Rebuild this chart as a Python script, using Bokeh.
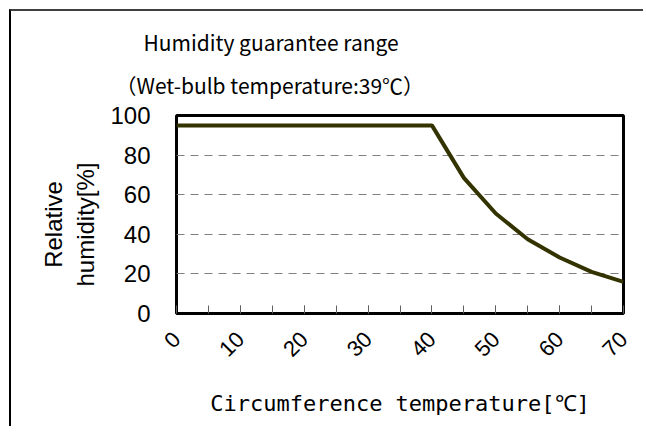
import math
from bokeh.plotting import figure
from bokeh.models import FixedTicker, Title, Range1d
from bokeh.embed import file_html
from bokeh.resources import INLINE

temperature = [0, 5, 10, 15, 20, 25, 30, 35, 40, 45, 50, 55, 60, 65, 70]
humidity = [95, 95, 95, 95, 95, 95, 95, 95, 95, 68.5, 50.5, 37.5, 28.3, 21, 16]
x_ticks = [0, 10, 20, 30, 40, 50, 60, 70]
x_minor = [5, 10, 15, 20, 25, 30, 35, 40, 45, 50, 55, 60, 65]
y_ticks = [0, 20, 40, 60, 80, 100]

title_line1 = "Humidity guarantee range"
title_line2 = "\uff08Wet-bulb temperature:39\u2103\uff09"
x_title = "Circumference temperature[\u2103]"
y_title = "Relative\u00a0\u00a0\u00a0\nhumidity[%]\u00a0\u00a0\u00a0"

TITLE_FONT = "Noto Sans CJK JP"
MONO = "DejaVu Sans Mono"
NUM = "Liberation Sans"

p = figure(width=634, height=417, output_backend="svg", toolbar_location=None,
           x_range=Range1d(0, 70), y_range=Range1d(0, 100),
           min_border_left=165, min_border_right=22, min_border_top=104, min_border_bottom=115)
p.styles = {"margin-left": "9px", "margin-top": "9px",
            "border-left": "2px solid #000000", "border-top": "2px solid #404040"}

p.outline_line_color = "black"
p.outline_line_width = 3
p.background_fill_color = "white"
p.border_fill_color = "white"

p.xgrid.visible = False
p.ygrid.grid_line_color = "#808080"
p.ygrid.grid_line_dash = "8 6"
p.ygrid.grid_line_width = 1
p.ygrid.ticker = FixedTicker(ticks=[20, 40, 60, 80])

xa = p.xaxis[0]
xa.ticker = FixedTicker(ticks=x_ticks, minor_ticks=x_minor)
xa.axis_line_color = None
xa.major_tick_in = 8
xa.major_tick_out = 0
xa.minor_tick_in = 8
xa.minor_tick_out = 0
xa.major_tick_line_color = "#606060"
xa.minor_tick_line_color = "#606060"
xa.major_label_orientation = math.pi / 4
xa.major_label_text_font = NUM
xa.major_label_text_font_size = "22px"
xa.major_label_text_color = "black"
xa.major_label_standoff = 22
xa.axis_label = x_title
xa.axis_label_text_font = MONO
xa.axis_label_text_font_size = "22px"
xa.axis_label_text_font_style = "normal"
xa.axis_label_text_color = "black"
xa.axis_label_standoff = 25

ya = p.yaxis[0]
ya.ticker = FixedTicker(ticks=y_ticks)
ya.axis_line_color = None
ya.major_tick_line_color = None
ya.minor_tick_line_color = None
ya.major_label_text_font = NUM
ya.major_label_text_font_size = "24px"
ya.major_label_text_color = "black"
ya.major_label_standoff = 20
ya.axis_label = y_title
ya.axis_label_text_font = NUM
ya.axis_label_text_font_size = "24px"
ya.axis_label_text_font_style = "normal"
ya.axis_label_text_color = "black"
ya.axis_label_text_line_height = 1.2
ya.axis_label_standoff = 8

p.line(temperature, humidity, line_color="#333300", line_width=4)

p.add_layout(Title(text=title_line2, text_font=TITLE_FONT, text_font_size="21px",
                   text_font_style="normal", align="left", offset=-61,
                   text_color="black", standoff=32), "above")
p.add_layout(Title(text=title_line1, text_font=TITLE_FONT, text_font_size="21px",
                   text_font_style="normal", align="left", offset=-33,
                   text_color="black", standoff=-11), "above")

open("out.html", "w").write(file_html(p, INLINE))
